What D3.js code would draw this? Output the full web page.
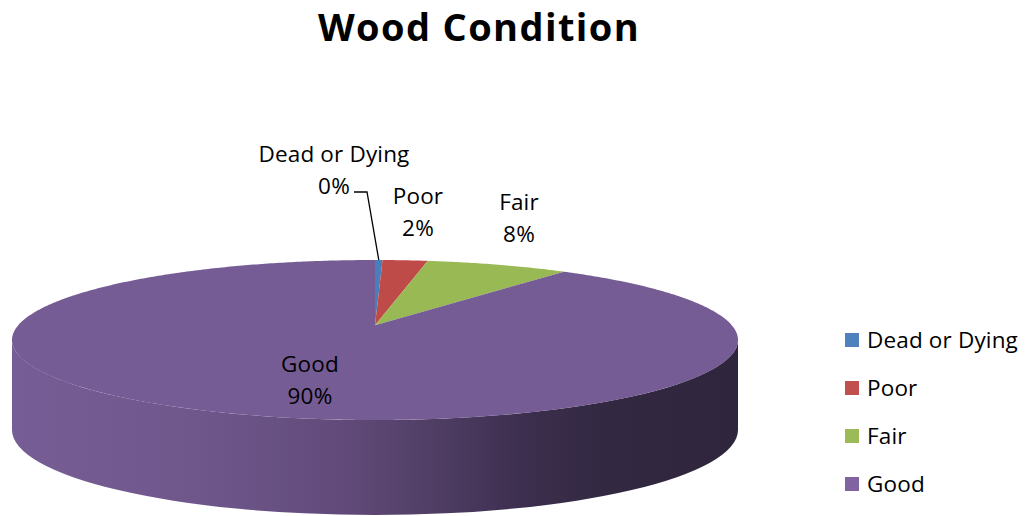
<!DOCTYPE html>
<meta charset="utf-8">
<html>
<head>
<style>
body { margin: 0; background: #fff; }
text { font-family: "Open Sans", sans-serif; fill: #000; }
</style>
</head>
<body>
<script src="https://d3js.org/d3.v7.min.js"></script>
<script>

var categories = ["Dead or Dying", "Poor", "Fair", "Good"];
var values = [0.4, 2.4, 7.6, 89.6];
var pctLabels = ["0%", "2%", "8%", "90%"];
var topColors = ["#4a7ebb", "#be4b48", "#98b954", "#765c94"];
var legendColors = ["#4f81bd", "#c0504d", "#9bbb59", "#8064a2"];

var width = 1028, height = 516;
var cx = 375, cy = 340, rx = 363, ry = 80, depth = 90, tilt = 0.185;

var svg = d3.select("body").append("svg")
  .attr("width", width)
  .attr("height", height);

// Calibri is narrow: keep the cap height, squeeze with letter-spacing to hit the width
function fitSpacing(str, size, weight, target) {
  var t = svg.append("text").attr("font-size", size).attr("font-weight", weight).text(str);
  var w = t.node().getComputedTextLength();
  t.remove();
  return (target - w) / str.length;
}
var labelSize = 22.5;
var labelSpacing = fitSpacing("Dead or Dying", labelSize, "normal", 151);
var titleSize = 38;
var titleSpacing = fitSpacing("Wood Condition", titleSize, "bold", 322);

// circle point -> screen with a bit of perspective (far side smaller)
function project(r, a) {
  var u = r * Math.sin(a), v = -r * Math.cos(a);
  var w = 1 - tilt * v;
  var X = u / w, Y = v / w;
  var k2 = 1 - tilt * tilt;
  return [cx + rx * X * Math.sqrt(k2), cy + ry * (Y - tilt / k2) * k2];
}

var defs = svg.append("defs");
var grad = defs.append("linearGradient")
  .attr("id", "side")
  .attr("gradientUnits", "userSpaceOnUse")
  .attr("x1", cx - rx).attr("x2", cx + rx).attr("y1", 0).attr("y2", 0);
[[0, "#775d95"], [0.25, "#6f578c"], [0.45, "#624b7b"], [0.58, "#503e65"],
 [0.7, "#3d2f4f"], [0.82, "#322841"], [1, "#2f263d"]].forEach(function(s) {
  grad.append("stop").attr("offset", s[0]).attr("stop-color", s[1]);
});

// side wall of the front half
var ryb = ry + 5;
svg.append("path")
  .attr("d", "M" + (cx - rx) + "," + cy +
    " A" + rx + "," + ry + " 0 0 0 " + (cx + rx) + "," + cy +
    " L" + (cx + rx) + "," + (cy + depth) +
    " A" + rx + "," + ryb + " 0 0 1 " + (cx - rx) + "," + (cy + depth) + " Z")
  .attr("fill", "url(#side)");

var pie = d3.pie().sort(null).value(function(d) { return d; });
var arcs = pie(values);

var line = d3.line();
svg.selectAll(".slice")
  .data(arcs)
  .enter().append("path")
  .attr("class", "slice")
  .attr("fill", function(d, i) { return topColors[i]; })
  .attr("d", function(d) {
    var pts = [project(0, 0)];
    var n = Math.max(2, Math.ceil((d.endAngle - d.startAngle) / 0.01));
    for (var j = 0; j <= n; j++) {
      pts.push(project(1, d.startAngle + (d.endAngle - d.startAngle) * j / n));
    }
    return line(pts) + "Z";
  });

// data labels
var labelPos = [[334, 162], [418, 204], [519, 210], [310, 372]];
var lineGap = 31.5;
var lab = svg.selectAll(".lab")
  .data(arcs)
  .enter().append("g")
  .attr("class", "lab");
lab.append("text")
  .attr("x", function(d, i) { return labelPos[i][0]; })
  .attr("y", function(d, i) { return labelPos[i][1]; })
  .attr("text-anchor", "middle")
  .attr("font-size", labelSize)
  .attr("letter-spacing", labelSpacing)
  .text(function(d, i) { return categories[i]; });
lab.append("text")
  .attr("x", function(d, i) { return labelPos[i][0]; })
  .attr("y", function(d, i) { return labelPos[i][1] + lineGap; })
  .attr("text-anchor", "middle")
  .attr("font-size", labelSize)
  .attr("letter-spacing", labelSpacing)
  .text(function(d, i) { return pctLabels[i]; });

// leader line for the tiny slice
var rim = project(1, (arcs[0].startAngle + arcs[0].endAngle) / 2);
svg.append("polyline")
  .attr("points", [[354, 192], [367, 192], rim].map(function(p) { return p.join(","); }).join(" "))
  .attr("fill", "none")
  .attr("stroke", "#000")
  .attr("stroke-width", 1.3);

// title
svg.append("text")
  .attr("x", 479)
  .attr("y", 41)
  .attr("text-anchor", "middle")
  .attr("font-weight", "bold")
  .attr("font-size", titleSize)
  .attr("letter-spacing", titleSpacing)
  .text("Wood Condition");

// legend
var legend = svg.selectAll(".legend")
  .data(categories)
  .enter().append("g")
  .attr("class", "legend")
  .attr("transform", function(d, i) { return "translate(845," + (348 + i * 48) + ")"; });
legend.append("rect")
  .attr("x", 0).attr("y", -15)
  .attr("width", 14).attr("height", 14)
  .attr("fill", function(d, i) { return legendColors[i]; });
legend.append("text")
  .attr("x", 22)
  .attr("y", 0)
  .attr("font-size", labelSize)
  .attr("letter-spacing", labelSpacing)
  .text(function(d) { return d; });

</script>
</body>
</html>
